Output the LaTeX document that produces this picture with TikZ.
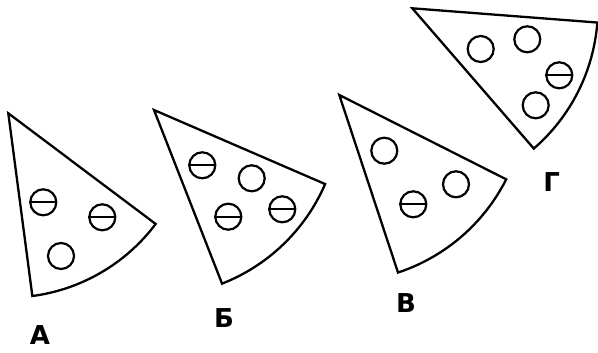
\documentclass[tikz,border=0pt]{standalone}
\usepackage{fontspec}
\setmainfont{DejaVu Sans}
\begin{document}
\begin{tikzpicture}[x=1pt,y=1pt,yscale=-1,
  slice/.style={draw,line width=2.3pt,line join=miter},
  hole/.style={circle,draw,line width=2.2pt,minimum size=26pt,inner sep=0pt},
  bar/.style={line width=2.2pt},
  lbl/.style={font=\fontsize{26}{26}\selectfont\bfseries,inner sep=0pt}]
\useasboundingbox (0,0) rectangle (598,353);
% A
\coordinate (A0) at (8.3,113.3);
\draw[slice] (A0) -- ++(36.9:184.3) coordinate (A1)
  arc[start angle=36.9,end angle=82.5,radius=184.3] coordinate (A2) -- cycle;
\node[hole] (a1) at (43.3,202.3) {};
\node[hole] (a2) at (102.3,217.3) {};
\node[hole] (a3) at (61,256) {};
\draw[bar] (a1.west) -- (a1.east);
\draw[bar] (a2.west) -- (a2.east);
\node[lbl] (la) at (40,335) {А};
% B
\coordinate (B0) at (154,110);
\draw[slice] (B0) -- ++(23.4:186.5) coordinate (B1)
  arc[start angle=23.4,end angle=68.6,radius=186.5] coordinate (B2) -- cycle;
\node[hole] (b1) at (202.3,165.3) {};
\node[hole] (b2) at (251.7,178.3) {};
\node[hole] (b3) at (228.3,216.7) {};
\node[hole] (b4) at (282.3,209.3) {};
\draw[bar] (b1.west) -- (b1.east);
\draw[bar] (b3.west) -- (b3.east);
\draw[bar] (b4.west) -- (b4.east);
\node[lbl] (lb) at (224,318) {Б};
% V
\coordinate (V0) at (339.3,95);
\draw[slice] (V0) -- ++(26.8:187) coordinate (V1)
  arc[start angle=26.8,end angle=71.7,radius=187] coordinate (V2) -- cycle;
\node[hole] (v1) at (384.3,150.7) {};
\node[hole] (v2) at (456,184.3) {};
\node[hole] (v3) at (413.3,204.3) {};
\draw[bar] (v3.west) -- (v3.east);
\node[lbl] (lv) at (406,303) {В};
% G
\coordinate (G0) at (412.3,8.3);
\draw[slice] (G0) -- ++(4.4:185.6) coordinate (G1)
  arc[start angle=4.4,end angle=49.1,radius=185.6] coordinate (G2) -- cycle;
\node[hole] (g1) at (480.7,49) {};
\node[hole] (g2) at (527.3,39.3) {};
\node[hole] (g3) at (559.3,75.3) {};
\node[hole] (g4) at (535.7,105.3) {};
\draw[bar] (g3.west) -- (g3.east);
\node[lbl] (lg) at (551.7,182) {Г};
\end{tikzpicture}
\end{document}
